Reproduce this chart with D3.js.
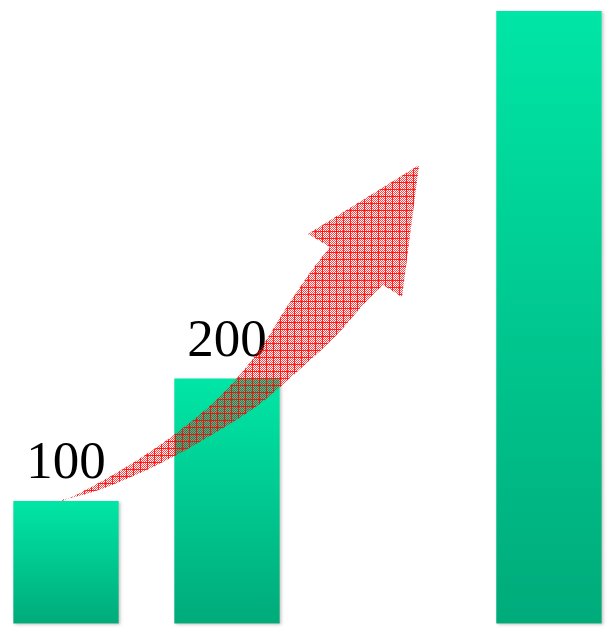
<!DOCTYPE html>
<html>
<head>
<meta charset="utf-8">
<script src="https://cdn.jsdelivr.net/npm/d3@7"></script>
<style>
  html, body { margin: 0; padding: 0; background: #fff; }
  svg { display: block; }
</style>
</head>
<body>
<script>
// Bar data: four slots, the third one is left empty
const categories = ["A", "B", "C", "D"];
const values = [100, 200, null, 500];
const labelled = [true, true, false, false];

// Growth arrow outline, as offsets from the top centre of the first bar
const arrowUpper = [[-4, 0], [7, -4], [44, -24], [77, -44], [111, -68], [144, -94], [167, -118],
  [184, -138], [201, -161], [217, -189], [234, -214], [251, -238], [264, -254]];
const arrowHead = [[242, -267], [353, -336], [336, -204], [317, -216]];
const arrowLower = [[317, -216], [301, -201], [284, -181], [267, -161], [217, -117],
  [194, -96], [161, -75], [127, -55], [94, -37], [61, -22], [27, -8], [-6, -1], [-4, 0]];

const W = 608, H = 628;
const svg = d3.select("body").append("svg").attr("width", W).attr("height", H);
const defs = svg.append("defs");

// vertical green gradient for every bar
const grad = defs.append("linearGradient").attr("id", "barGrad")
  .attr("x1", 0).attr("y1", 0).attr("x2", 0).attr("y2", 1);
grad.append("stop").attr("offset", "0%").attr("stop-color", "#00e6a6");
grad.append("stop").attr("offset", "100%").attr("stop-color", "#00ab7a");

// soft shadow under the bars
const shadow = defs.append("filter").attr("id", "barShadow")
  .attr("x", "-10%").attr("y", "-10%").attr("width", "120%").attr("height", "120%");
shadow.append("feDropShadow").attr("dx", 1.5).attr("dy", 1).attr("stdDeviation", 1.4)
  .attr("flood-color", "#777").attr("flood-opacity", 0.45);

// fine dotted red texture
const dots = defs.append("pattern").attr("id", "redDots")
  .attr("patternUnits", "userSpaceOnUse").attr("width", 2).attr("height", 2);
dots.append("rect").attr("x", 0).attr("y", 0).attr("width", 1).attr("height", 1)
  .attr("fill", "#ff0000").attr("fill-opacity", 0.72).attr("shape-rendering", "crispEdges");
dots.append("rect").attr("x", 1).attr("y", 1).attr("width", 1).attr("height", 1)
  .attr("fill", "#ff0000").attr("fill-opacity", 0.72).attr("shape-rendering", "crispEdges");

// red cross-hatch grid lines
const grid = defs.append("pattern").attr("id", "redGrid")
  .attr("patternUnits", "userSpaceOnUse").attr("width", 7).attr("height", 7);
grid.append("rect").attr("x", 0).attr("y", 0).attr("width", 1).attr("height", 7)
  .attr("fill", "#ff0000").attr("fill-opacity", 0.8).attr("shape-rendering", "crispEdges");
grid.append("rect").attr("x", 0).attr("y", 0).attr("width", 7).attr("height", 1)
  .attr("fill", "#ff0000").attr("fill-opacity", 0.8).attr("shape-rendering", "crispEdges");

// scales
const x = d3.scaleBand().domain(categories).range([13.3, 601.7])
  .paddingInner(0.345).paddingOuter(0);
const y = d3.scaleLinear().domain([0, 500]).range([623.5, 11]);

const data = categories.map((c, i) => ({ c, v: values[i], label: labelled[i] }))
  .filter(d => d.v != null);

// bars
svg.append("g").selectAll("rect").data(data).join("rect")
  .attr("x", d => x(d.c))
  .attr("y", d => y(d.v))
  .attr("width", x.bandwidth())
  .attr("height", d => y(0) - y(d.v))
  .attr("fill", "url(#barGrad)")
  .attr("filter", "url(#barShadow)");

// value labels
svg.append("g").selectAll("text").data(data.filter(d => d.label)).join("text")
  .attr("x", d => x(d.c) + x.bandwidth() / 2)
  .attr("y", d => y(d.v) - 23)
  .attr("text-anchor", "middle")
  .attr("font-family", "'Liberation Serif', 'Times New Roman', serif")
  .attr("font-size", 53)
  .attr("fill", "#000")
  .text(d => d.v);

// growth arrow rising from the first bar
const ox = x(categories[0]) + x.bandwidth() / 2;
const oy = y(values[0]);
const toAbs = p => [ox + p[0], oy + p[1]];
const smooth = d3.line().curve(d3.curveBasis);
const straight = d3.line();
const upperPath = smooth(arrowUpper.map(toAbs));
const headPath = straight([arrowUpper[arrowUpper.length - 1], ...arrowHead].map(toAbs)).replace(/^M/, "L");
const lowerPath = smooth(arrowLower.map(toAbs)).replace(/^M/, "L");
const arrowD = upperPath + headPath + lowerPath + "Z";

const arrow = svg.append("g");
arrow.append("path").attr("d", arrowD).attr("fill", "url(#redDots)");
arrow.append("path").attr("d", arrowD).attr("fill", "url(#redGrid)");
</script>
</body>
</html>
